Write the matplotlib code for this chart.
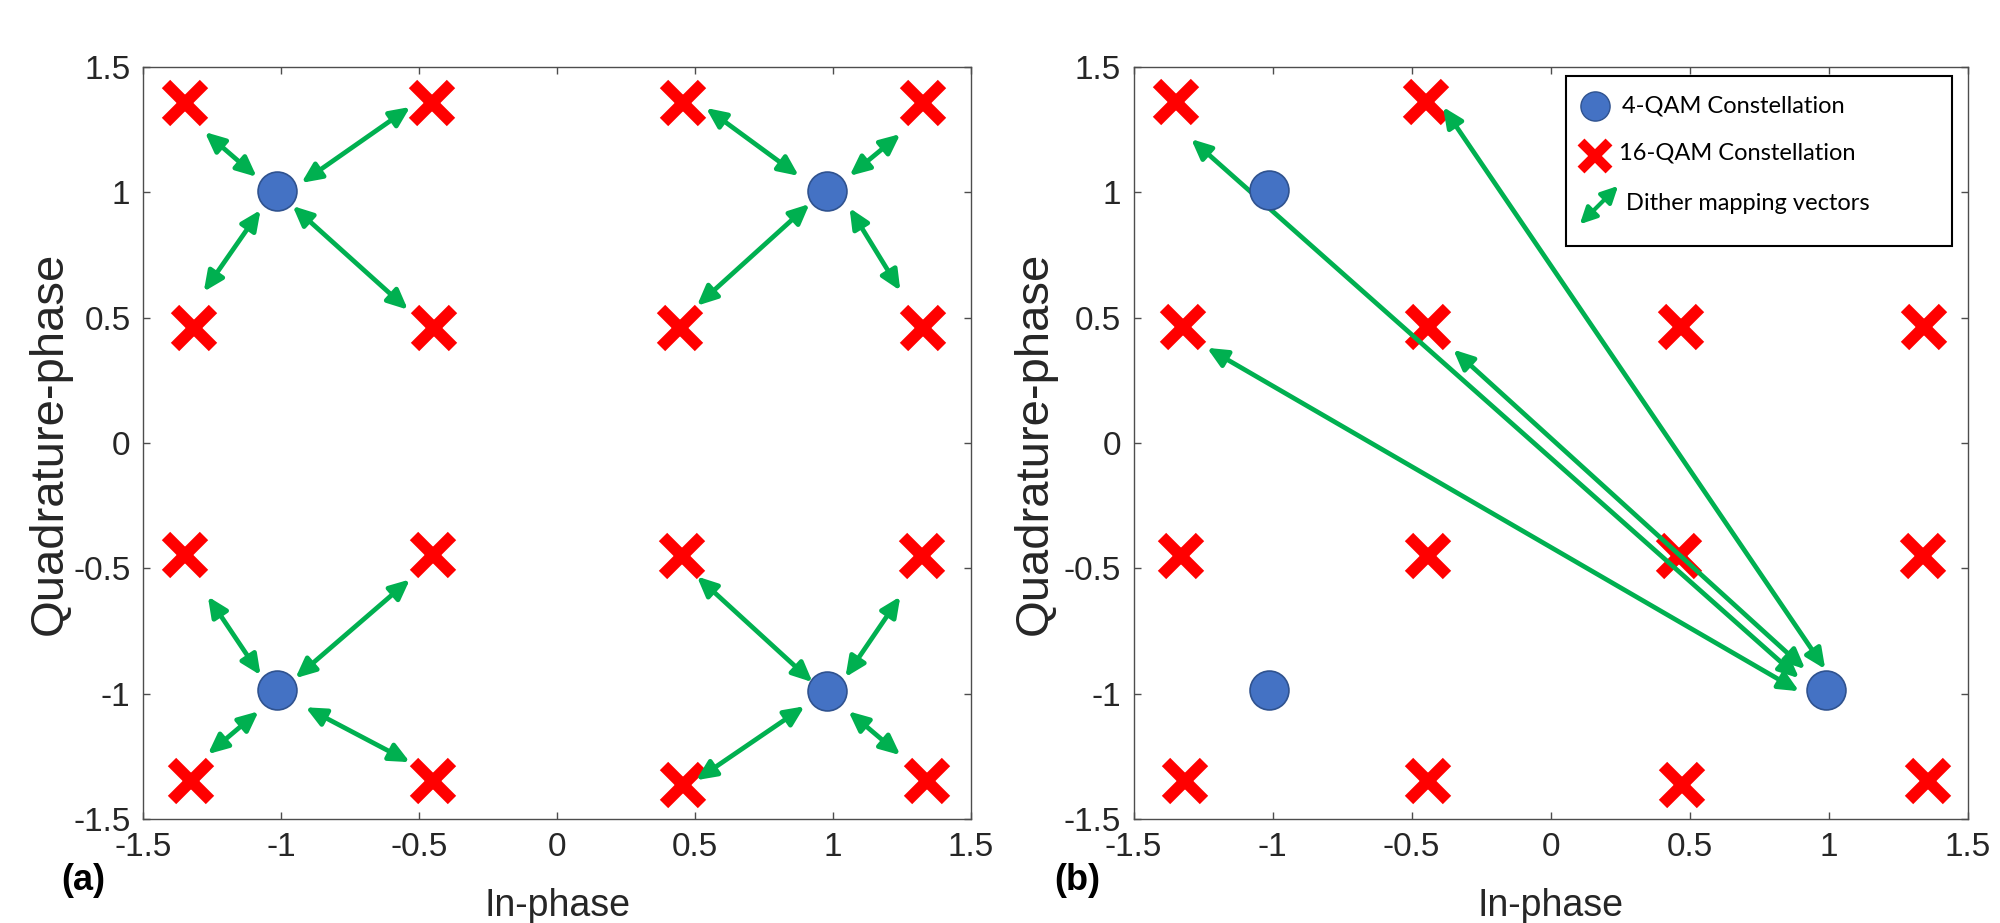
import matplotlib
matplotlib.use("Agg")
import matplotlib.pyplot as plt
from matplotlib.patches import FancyArrowPatch, Rectangle

# ---- data ----
ticks = [-1.5, -1, -0.5, 0, 0.5, 1, 1.5]
tick_labels = ["-1.5", "-1", "-0.5", "0", "0.5", "1", "1.5"]

# panel (a)
qam4_a_i = [-1.013, 0.977, -1.013, 0.977]
qam4_a_q = [1.006, 1.006, -0.986, -0.990]
qam16_a_i = [-1.348, -0.453, 0.457, 1.327,
             -1.316, -0.446, 0.446, 1.327,
             -1.348, -0.449, 0.453, 1.323,
             -1.327, -0.449, 0.457, 1.341]
qam16_a_q = [1.357, 1.357, 1.357, 1.357,
             0.460, 0.460, 0.460, 0.460,
             -0.448, -0.448, -0.452, -0.452,
             -1.349, -1.349, -1.365, -1.349]
vec_a_i0 = [-1.088, -0.926, -1.074, -0.958, 0.876, 1.060, 0.915, 1.060,
            -1.074, -0.948, -1.081, -0.911, 0.926, 1.045, 0.897, 1.056]
vec_a_q0 = [1.062, 1.038, 0.930, 0.946, 1.066, 1.066, 0.954, 0.938,
            -0.926, -0.938, -1.070, -1.054, -0.954, -0.934, -1.050, -1.070]
vec_a_i1 = [-1.276, -0.532, -1.280, -0.540, 0.540, 1.244, 0.507, 1.244,
            -1.265, -0.533, -1.265, -0.533, 0.507, 1.244, 0.504, 1.244]
vec_a_q1 = [1.241, 1.341, 0.604, 0.532, 1.337, 1.233, 0.548, 0.608,
            -0.612, -0.544, -1.241, -1.273, -0.532, -0.612, -1.345, -1.245]

# panel (b)
qam4_b_i = [-1.013, 0.991, -1.013]
qam4_b_q = [1.010, -0.984, -0.984]
qam16_b_i = [-1.347, -0.448,
             -1.321, -0.441, 0.469, 1.344,
             -1.329, -0.441, 0.463, 1.340,
             -1.315, -0.441, 0.473, 1.358]
qam16_b_q = [1.361, 1.361,
             0.464, 0.464, 0.464, 0.464,
             -0.452, -0.452, -0.452, -0.452,
             -1.349, -1.349, -1.365, -1.349]
vec_b_i0 = [0.894, 0.988, 0.894, 0.916]
vec_b_q0 = [-0.938, -0.902, -0.990, -0.902]
vec_b_i1 = [-1.293, -0.387, -1.236, -0.350]
vec_b_q1 = [1.213, 1.341, 0.380, 0.373]

legend_labels = ["4-QAM Constellation", "16-QAM Constellation", "Dither mapping vectors"]

blue = "#4472C4"
red = "#FF0000"
green = "#00B050"
axcol = "#4d4d4d"
txtcol = "#262626"

plt.rcParams["font.family"] = ["Liberation Sans", "DejaVu Sans"]

fig = plt.figure(figsize=(20, 9.23), dpi=100)
ax_a = fig.add_axes([0.0715, 0.1126, 0.414, 0.8147])
ax_b = fig.add_axes([0.5668, 0.1126, 0.417, 0.8147])


def arrow(ax, x0, y0, x1, y1):
    a = FancyArrowPatch((x0, y0), (x1, y1),
                        arrowstyle="<|-|>,head_length=12,head_width=5.5",
                        mutation_scale=1, color=green, lw=3.4,
                        shrinkA=0, shrinkB=0, zorder=3)
    ax.add_patch(a)


def style(ax):
    ax.set_xlim(-1.5, 1.5)
    ax.set_ylim(-1.5, 1.5)
    ax.set_xticks(ticks)
    ax.set_yticks(ticks)
    ax.set_xticklabels(tick_labels)
    ax.set_yticklabels(tick_labels)
    ax.tick_params(direction="in", top=True, right=True, length=5, width=1,
                   color=axcol, labelsize=24, labelcolor=txtcol, pad=9)
    for s in ax.spines.values():
        s.set_color(axcol)
        s.set_linewidth(1)
    ax.set_xlabel("In-phase", fontsize=27, color=txtcol)
    ax.set_ylabel("Quadrature-phase", fontsize=34, color=txtcol)
    ax.xaxis.set_label_coords(0.5, -0.115)
    ax.xaxis.label.set_va("center")
    ax.yaxis.label.set_va("center")


for ax, qi, qq, xi, xq, vi0, vq0, vi1, vq1 in [
        (ax_a, qam4_a_i, qam4_a_q, qam16_a_i, qam16_a_q, vec_a_i0, vec_a_q0, vec_a_i1, vec_a_q1),
        (ax_b, qam4_b_i, qam4_b_q, qam16_b_i, qam16_b_q, vec_b_i0, vec_b_q0, vec_b_i1, vec_b_q1)]:
    ax.plot(xi, xq, linestyle="none", marker="x", markersize=27, mew=8.5,
            color=red, zorder=2)
    for k in range(len(vi0)):
        arrow(ax, vi0[k], vq0[k], vi1[k], vq1[k])
    ax.plot(qi, qq, linestyle="none", marker="o", markersize=28,
            markerfacecolor=blue, markeredgecolor="#2F528F", mew=1.2, zorder=4)
    style(ax)

ax_a.yaxis.set_label_coords(-0.113, 0.5)
ax_b.yaxis.set_label_coords(-0.118, 0.5)

# hand-drawn legend box in panel (b)
ax_b.add_patch(Rectangle((0.519, 0.762), 0.462, 0.226, transform=ax_b.transAxes,
                         facecolor="white", edgecolor="black", lw=1.5, zorder=6))
ax_b.plot([0.553], [0.948], transform=ax_b.transAxes, marker="o", markersize=21,
          markerfacecolor=blue, markeredgecolor="#2F528F", mew=1, zorder=7)
ax_b.plot([0.553], [0.882], transform=ax_b.transAxes, marker="x", markersize=20,
          mew=7, color=red, zorder=7)
ax_b.add_patch(FancyArrowPatch((0.535, 0.791), (0.581, 0.842), transform=ax_b.transAxes,
                               arrowstyle="<|-|>,head_length=10,head_width=5",
                               mutation_scale=1, color=green, lw=3,
                               shrinkA=0, shrinkB=0, zorder=7))
for y, lab, x in zip([0.948, 0.886, 0.819], legend_labels, [0.586, 0.582, 0.590]):
    ax_b.text(x, y, lab, transform=ax_b.transAxes, fontsize=17, family="Lato",
              va="center", ha="left", color="black", zorder=8)

fig.text(0.0415, 0.046, "(a)", fontsize=26, fontweight="bold", ha="center", va="center")
fig.text(0.5385, 0.046, "(b)", fontsize=26, fontweight="bold", ha="center", va="center")

fig.savefig("out.png", dpi=100, facecolor="white")
